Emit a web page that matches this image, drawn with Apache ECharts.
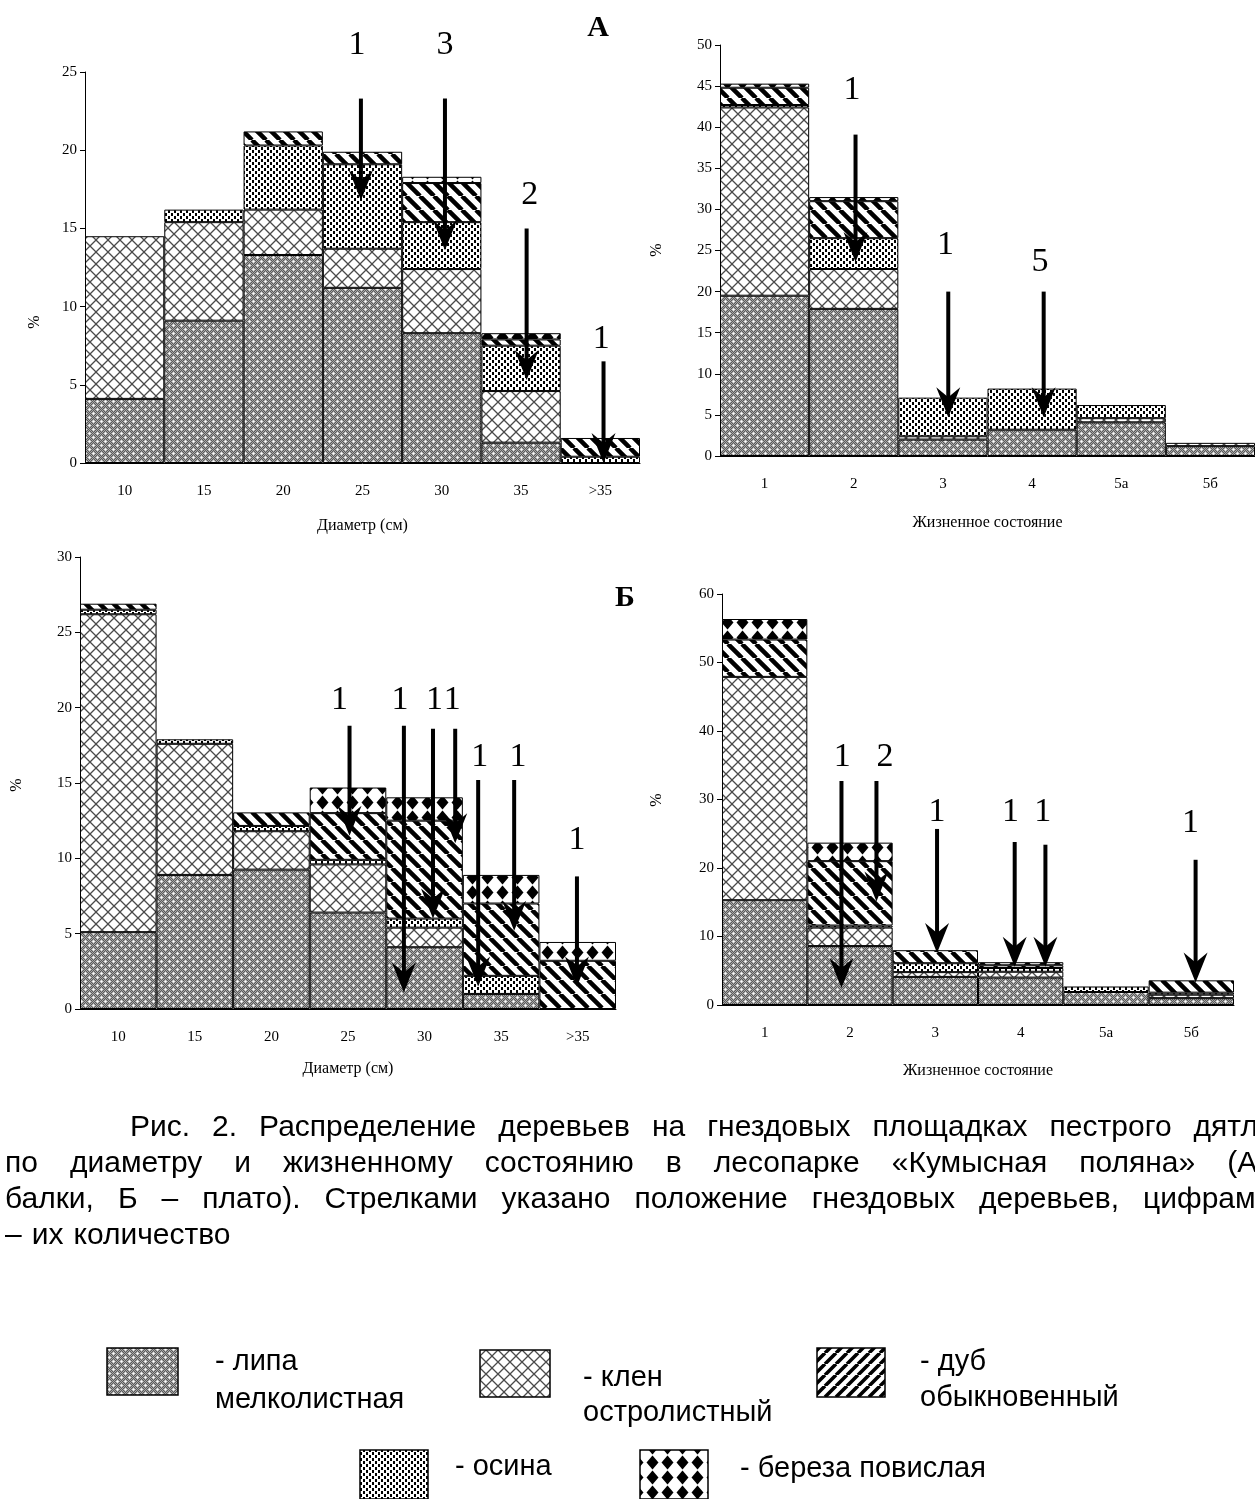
<!DOCTYPE html>
<html><head><meta charset="utf-8">
<script src="https://cdn.jsdelivr.net/npm/echarts/dist/echarts.min.js"></script>
<style>html,body{margin:0;padding:0;background:#fff}#c{width:1255px;height:1499px}</style>
</head><body><div id="c"></div>
<script>
// ---------- DATA ----------
const catsDiam = ['10','15','20','25','30','35','>35'];
const catsState = ['1','2','3','4','5а','5б'];
const speciesNames = ['липа мелколистная','клен остролистный','осина','дуб обыкновенный','береза повислая'];

// А – balki, by diameter
const aDiamLipa   = [4.1, 9.1, 13.3, 11.2, 8.3, 1.3, 0];
const aDiamKlen   = [10.4, 6.3, 2.9, 2.5, 4.1, 3.3, 0];
const aDiamOsina  = [0, 0.8, 4.1, 5.4, 3.0, 2.9, 0.4];
const aDiamDub    = [0, 0, 0.9, 0.8, 2.5, 0.4, 1.2];
const aDiamBereza = [0, 0, 0, 0, 0.4, 0.4, 0];
// А – by vital state
const aStateLipa   = [19.5, 17.9, 2.0, 3.2, 4.1, 1.2];
const aStateKlen   = [22.9, 4.85, 0.4, 0, 0.5, 0.4];
const aStateOsina  = [0.3, 3.75, 4.7, 5.0, 1.6, 0];
const aStateDub    = [2.1, 4.5, 0, 0, 0, 0];
const aStateBereza = [0.5, 0.5, 0, 0, 0, 0];
// Б – plato, by diameter
const bDiamLipa   = [5.1, 8.9, 9.25, 6.4, 4.1, 1.0, 0];
const bDiamKlen   = [21.1, 8.7, 2.55, 3.2, 1.3, 0, 0];
const bDiamOsina  = [0.3, 0.3, 0.35, 0.3, 0.6, 1.2, 0];
const bDiamDub    = [0.4, 0, 0.9, 3.1, 6.5, 4.8, 3.2];
const bDiamBereza = [0, 0, 0, 1.7, 1.55, 1.9, 1.25];
// Б – by vital state
const bStateLipa   = [15.3, 8.6, 4.1, 4.0, 1.9, 1.0];
const bStateKlen   = [32.6, 2.7, 0.7, 0.85, 0, 0.5];
const bStateOsina  = [0, 0.3, 1.3, 0.55, 0.8, 0.3];
const bStateDub    = [5.45, 9.4, 1.9, 0.4, 0, 1.8];
const bStateBereza = [3.0, 2.7, 0, 0.45, 0, 0];

// nest-tree arrows: [x (in bar units), yStart, yTip, labelX, labelY, count]
const aDiamArrows = [
  [3.48, 23.3, 16.8, 3.43, 26.7, 1],
  [4.54, 23.3, 13.6, 4.54, 26.7, 3],
  [5.57, 15.0, 5.3, 5.61, 17.1, 2],
  [6.54, 6.5, 0.0, 6.51, 7.9, 1]
];
const aStateArrows = [
  [1.52, 39.1, 23.6, 1.48, 44.5, 1],
  [2.56, 20.0, 4.7, 2.53, 25.7, 1],
  [3.63, 20.0, 4.7, 3.59, 23.6, 5]
];
const bDiamArrows = [
  [3.52, 18.8, 11.5, 3.39, 20.5, 1],
  [4.23, 18.8, 1.1, 4.18, 20.5, 1],
  [4.61, 18.6, 6.0, 4.63, 20.5, 1],
  [4.90, 18.6, 11.0, 4.86, 20.5, 1],
  [5.20, 15.2, 1.5, 5.22, 16.7, 1],
  [5.67, 15.2, 5.2, 5.72, 16.7, 1],
  [6.49, 8.8, 1.5, 6.49, 11.2, 1]
];
const bStateArrows = [
  [1.40, 32.7, 2.5, 1.41, 36.2, 1],
  [1.81, 32.7, 15.1, 1.91, 36.2, 2],
  [2.52, 25.7, 7.6, 2.52, 28.2, 1],
  [3.43, 23.8, 5.6, 3.38, 28.2, 1],
  [3.79, 23.4, 5.6, 3.76, 28.2, 1],
  [5.55, 21.2, 3.3, 5.49, 26.6, 1]
];

// ---------- PATTERNS ----------
function mk(w, h, draw) { const c = document.createElement('canvas'); c.width = w; c.height = h; const g = c.getContext('2d'); draw(g, w, h); return c; }
const patLipa = mk(8, 8, (g) => {
  for (let y = 0; y < 8; y++) for (let x = 0; x < 8; x++) { g.fillStyle = ((x + y) % 2 === 0) ? '#a8a8a8' : '#5a5a5a'; g.fillRect(x, y, 1, 1); }
  [[1,1],[5,5]].forEach(([x,y]) => {
    g.fillStyle = '#e4e4e4'; g.fillRect(x-1,y,1,1); g.fillRect(x+1,y,1,1); g.fillRect(x,y-1,1,1); g.fillRect(x,y+1,1,1);
    g.fillStyle = '#ffffff'; g.fillRect(x, y, 1, 1);
  });
});
const patKlen = mk(12, 12, (g, w, h) => {
  g.fillStyle = '#fff'; g.fillRect(0, 0, w, h);
  g.strokeStyle = '#4a4a4a'; g.lineWidth = 1.3;
  g.beginPath(); g.moveTo(0, 0); g.lineTo(w, h); g.moveTo(w, 0); g.lineTo(0, h); g.stroke();
});
function stripes(P, lw, dir) {
  return mk(P, P, (g) => {
    g.fillStyle = '#fff'; g.fillRect(0, 0, P, P);
    g.strokeStyle = '#000'; g.lineWidth = lw; g.beginPath();
    for (let k = -1; k <= 1; k++) {
      if (dir > 0) { g.moveTo(k * P, 0); g.lineTo(k * P + P, P); }
      else { g.moveTo(k * P, P); g.lineTo(k * P + P, 0); }
    }
    g.stroke();
  });
}
const patDub = stripes(14, 4.5, 1);
const patDubLegend = stripes(11, 3.6, -1);
const patOsina = mk(6, 6, (g) => {
  g.fillStyle = '#fff'; g.fillRect(0, 0, 6, 6);
  g.fillStyle = '#000'; g.fillRect(0, 0, 2, 3); g.fillRect(3, 3, 2, 3);
});
const patBereza = mk(15, 15, (g) => {
  g.fillStyle = '#fff'; g.fillRect(0, 0, 15, 15);
  g.fillStyle = '#000'; g.beginPath(); g.moveTo(7.5, 0.5); g.lineTo(13.5, 7.5); g.lineTo(7.5, 14.5); g.lineTo(1.5, 7.5); g.closePath(); g.fill();
});
const P = (c) => ({ image: c, repeat: 'repeat' });
const patterns = [P(patLipa), P(patKlen), P(patOsina), P(patDub), P(patBereza)];

// ---------- LAYOUT ----------
const panels = [
  { cats: catsDiam, series: [aDiamLipa, aDiamKlen, aDiamOsina, aDiamDub, aDiamBereza], arrows: aDiamArrows,
    grid: { left: 85, top: 72, width: 555, height: 391 }, max: 25, interval: 5, name: 'Диаметр (см)', nameGap: 55 },
  { cats: catsState, series: [aStateLipa, aStateKlen, aStateOsina, aStateDub, aStateBereza], arrows: aStateArrows,
    grid: { left: 720, top: 45, width: 540, height: 411 }, max: 50, interval: 5, name: 'Жизненное состояние', nameGap: 59 },
  { cats: catsDiam, series: [bDiamLipa, bDiamKlen, bDiamOsina, bDiamDub, bDiamBereza], arrows: bDiamArrows,
    grid: { left: 80, top: 557, width: 536, height: 452 }, max: 30, interval: 5, name: 'Диаметр (см)', nameGap: 52 },
  { cats: catsState, series: [bStateLipa, bStateKlen, bStateOsina, bStateDub, bStateBereza], arrows: bStateArrows,
    grid: { left: 722, top: 594, width: 512, height: 411 }, max: 60, interval: 10, name: 'Жизненное состояние', nameGap: 58 }
];

const serif = 'Liberation Serif';
const grids = [], xAxes = [], yAxes = [], series = [];
panels.forEach((p, i) => {
  grids.push(p.grid);
  xAxes.push({
    gridIndex: i, type: 'category', data: p.cats,
    axisLine: { lineStyle: { color: '#000', width: 1 } },
    axisTick: { length: 6, lineStyle: { color: '#000' } },
    axisLabel: { color: '#000', fontFamily: serif, fontSize: 15, margin: 21 },
    name: p.name, nameLocation: 'middle', nameGap: p.nameGap,
    nameTextStyle: { color: '#000', fontFamily: serif, fontSize: 16 }
  });
  yAxes.push({
    gridIndex: i, type: 'value', min: 0, max: p.max, interval: p.interval,
    splitLine: { show: false },
    axisLine: { show: true, lineStyle: { color: '#000', width: 1 } },
    axisTick: { show: true, length: 5, lineStyle: { color: '#000' } },
    axisLabel: { color: '#000', fontFamily: serif, fontSize: 15, margin: 8 }
  });
  p.series.forEach((vals, k) => {
    series.push({
      type: 'bar', name: speciesNames[k], xAxisIndex: i, yAxisIndex: i, stack: 'st' + i,
      data: vals.map(v => v > 0 ? v : '-'), barCategoryGap: '0%', barGap: '0%',
      itemStyle: { color: patterns[k], borderColor: '#000', borderWidth: 1 },
      silent: true
    });
  });
});
// hidden value axes for arrow positions
panels.forEach((p, i) => {
  xAxes.push({ gridIndex: i, type: 'value', min: 0, max: p.cats.length, show: false });
  series.push({
    type: 'custom', xAxisIndex: 4 + i, yAxisIndex: i, data: p.arrows, clip: false, silent: true, z: 10,
    renderItem: function (params, api) {
      const x = api.value(0), top = api.value(1), tip = api.value(2), lx = api.value(3), ly = api.value(4), n = api.value(5);
      const p1 = api.coord([x, top]), p2 = api.coord([x, tip]), pl = api.coord([lx, ly]);
      return { type: 'group', children: [
        { type: 'line', shape: { x1: p1[0], y1: p1[1], x2: p2[0], y2: p2[1] - 14 }, style: { stroke: '#000', lineWidth: 4 } },
        { type: 'polygon', shape: { points: [[p2[0], p2[1]], [p2[0] - 12, p2[1] - 30], [p2[0], p2[1] - 20], [p2[0] + 12, p2[1] - 30]] }, style: { fill: '#000' } },
        { type: 'text', style: { text: String(n), x: pl[0], y: pl[1], align: 'center', verticalAlign: 'middle', font: '34px "Liberation Serif"', fill: '#000' } }
      ] };
    }
  });
});

// ---------- TEXT / LEGEND GRAPHICS ----------
const graphics = [];
function txt(text, x, y, font, align) {
  graphics.push({ type: 'text', x: x, y: y, style: { text: text, font: font, fill: '#000', align: align || 'left', verticalAlign: 'middle' } });
}
txt('А', 598, 28, 'bold 30px "Liberation Serif"', 'center');
txt('Б', 625, 598, 'bold 30px "Liberation Serif"', 'center');
[[35, 322], [657, 250], [17, 785], [657, 800]].forEach(([x, y]) => {
  graphics.push({ type: 'text', x: x, y: y, rotation: Math.PI / 2, style: { text: '%', font: '16px "Liberation Serif"', fill: '#000', align: 'center', verticalAlign: 'middle' } });
});

// caption (justified-looking lines, word spacing per line)
const measure = document.createElement('canvas').getContext('2d');
function captionLine(text, x, y, fontPx, gap) {
  const font = fontPx + 'px "Liberation Sans"';
  measure.font = font;
  let cx = x;
  text.split(' ').forEach(w => {
    graphics.push({ type: 'text', x: cx, y: y, style: { text: w, font: font, fill: '#000', align: 'left', verticalAlign: 'middle' } });
    cx += measure.measureText(w).width + gap;
  });
}
captionLine('Рис. 2. Распределение деревьев на гнездовых площадках пестрого дятла', 130, 1128, 30, 22);
captionLine('по диаметру и жизненному состоянию в лесопарке «Кумысная поляна» (А –', 5, 1164, 30, 32);
captionLine('балки, Б – плато). Стрелками указано положение гнездовых деревьев, цифрами', 5, 1200, 30, 24);
captionLine('– их количество', 5, 1236, 30, 10);

// legend
const legendItems = [
  { box: [107, 1348, 71, 47], pat: P(patLipa), lines: ['- липа', 'мелколистная'], tx: 215, ty: [1362, 1400] },
  { box: [480, 1350, 70, 47], pat: P(patKlen), lines: ['- клен', 'остролистный'], tx: 583, ty: [1378, 1413] },
  { box: [817, 1348, 68, 49], pat: P(patDubLegend), lines: ['- дуб', 'обыкновенный'], tx: 920, ty: [1362, 1398] },
  { box: [360, 1450, 68, 49], pat: P(patOsina), lines: ['- осина'], tx: 455, ty: [1467] },
  { box: [640, 1450, 68, 49], pat: P(patBereza), lines: ['- береза повислая'], tx: 740, ty: [1469] }
];
legendItems.forEach(it => {
  graphics.push({ type: 'rect', shape: { x: it.box[0], y: it.box[1], width: it.box[2], height: it.box[3] }, style: { fill: it.pat, stroke: '#000', lineWidth: 1.5 } });
  it.lines.forEach((l, j) => txt(l, it.tx, it.ty[j], '29px "Liberation Sans"'));
});

const chart = echarts.init(document.getElementById('c'), null, { renderer: 'canvas' });
chart.setOption({
  animation: false,
  backgroundColor: '#fff',
  grid: grids, xAxis: xAxes, yAxis: yAxes, series: series,
  graphic: graphics
});
</script></body></html>
